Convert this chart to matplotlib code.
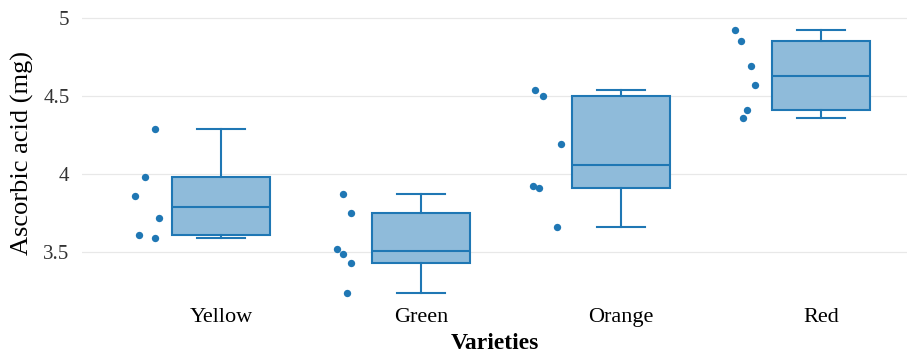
import matplotlib

matplotlib.use("Agg")

import matplotlib.pyplot as plt
import numpy as np

varieties = ["Yellow", "Green", "Orange", "Red"]
yellow = [4.29, 3.98, 3.86, 3.72, 3.61, 3.59]
green = [3.87, 3.75, 3.52, 3.49, 3.43, 3.24]
orange = [4.54, 4.50, 4.19, 3.92, 3.91, 3.66]
red = [4.92, 4.85, 4.69, 4.57, 4.41, 4.36]
y_ticks = [3.5, 4, 4.5, 5]

# horizontal offsets of the sample dots, left of each box
jitter = [
    [-0.33, -0.38, -0.43, -0.31, -0.41, -0.33],
    [-0.39, -0.35, -0.42, -0.39, -0.35, -0.37],
    [-0.43, -0.39, -0.30, -0.44, -0.41, -0.32],
    [-0.43, -0.40, -0.35, -0.33, -0.37, -0.39],
]

BLUE = "#1f77b4"
FILL = "#8fbbda"


def hinge_stats(values, label):
    v = np.sort(np.asarray(values, dtype=float))
    n = len(v)
    half = n // 2
    lower = v[:half] if n % 2 == 0 else v[:half + 1]
    upper = v[half:] if n % 2 == 0 else v[half:]
    q1, q3 = np.median(lower), np.median(upper)
    iqr = q3 - q1
    lo = v[v >= q1 - 1.5 * iqr].min()
    hi = v[v <= q3 + 1.5 * iqr].max()
    return {"label": label, "med": np.median(v), "q1": q1, "q3": q3,
            "whislo": lo, "whishi": hi, "fliers": []}


plt.rcParams["font.family"] = ["Liberation Serif", "DejaVu Serif"]

fig = plt.figure(figsize=(9.07, 3.56), dpi=100)
ax = fig.add_axes([82 / 907, 56 / 356, 825 / 907, 295 / 356])

groups = [yellow, green, orange, red]
stats = [hinge_stats(g, name) for g, name in zip(groups, varieties)]
pos = np.arange(len(varieties))
ax.bxp(stats, positions=pos, widths=0.49, patch_artist=True, showfliers=False,
       boxprops=dict(facecolor=FILL, edgecolor=BLUE, linewidth=1.5),
       medianprops=dict(color=BLUE, linewidth=1.5),
       whiskerprops=dict(color=BLUE, linewidth=1.5),
       capprops=dict(color=BLUE, linewidth=1.5), capwidths=0.24, zorder=3)

for i, g in enumerate(groups):
    ax.scatter(pos[i] + np.array(jitter[i]), g, s=28, color=BLUE, zorder=4,
               linewidths=0)

ax.set_xlim(-0.695, 3.43)
ax.set_ylim(3.192, 5.083)
ax.set_yticks(y_ticks)
ax.set_yticklabels(["%g" % t for t in y_ticks], fontsize=15, color="#333333")
ax.set_xticks(pos)
ax.set_xticklabels(varieties, fontsize=16)
ax.tick_params(axis="both", length=0)
ax.tick_params(axis="y", pad=9)
ax.tick_params(axis="x", pad=6)
ax.grid(axis="y", color="#e8e8e8", linewidth=0.9)
ax.set_axisbelow(True)
for s in ax.spines.values():
    s.set_visible(False)

ax.set_ylabel("Ascorbic acid (mg)", fontsize=19, labelpad=7)
ax.set_xlabel("Varieties", fontsize=17, fontweight="bold", labelpad=4)

fig.savefig("out.png", facecolor="white")
